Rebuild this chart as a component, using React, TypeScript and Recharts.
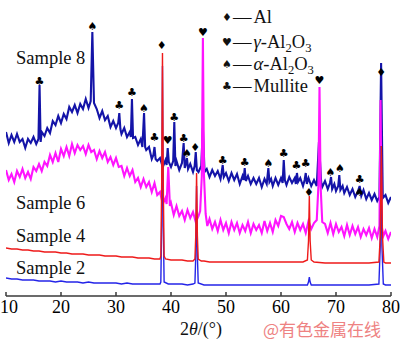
import React from "react";
import { ComposedChart, Line, Scatter, XAxis, YAxis } from "recharts";

// 2θ (deg), intensity (a.u., offset per sample)
const xTicks = [10, 20, 30, 40, 50, 60, 70, 80];

const sample2: [number, number][] = [
  [10, 18], [11, 17], [12, 17], [13, 16], [14, 16], [15, 16], [16, 15], [17, 15], [18, 15], [19, 14],
  [20, 15], [21, 14], [22, 14], [23, 14], [24, 13], [25, 14], [26, 13], [27, 13], [28, 13], [29, 13],
  [30, 13], [31, 12], [32, 13], [33, 12], [34, 12], [35, 12], [36, 12], [37, 12], [38, 12], [38.15, 14],
  [38.3, 70], [38.45, 230], [38.6, 70], [38.75, 14], [39.5, 12], [40, 12], [41, 12], [42, 12], [43, 11],
  [44, 12], [44.35, 13], [44.5, 40], [44.65, 110], [44.8, 40], [44.95, 13], [46, 11], [47, 11], [48, 11],
  [50, 11], [52, 11], [54, 11], [56, 11], [58, 11], [60, 11], [62, 11], [64, 11], [64.8, 11], [65, 14],
  [65.15, 19], [65.3, 14], [65.5, 11], [67, 11], [70, 11], [72, 11], [74, 11], [76, 11], [77.8, 12],
  [78.05, 50], [78.2, 150], [78.35, 50], [78.6, 12], [79, 11], [80, 11],
];

const sample4: [number, number][] = [
  [10, 48], [11, 47], [12, 47], [13, 46], [14, 46], [15, 45], [16, 45], [17, 44], [18, 44], [19, 44],
  [20, 43], [21, 43], [22, 42], [23, 42], [24, 42], [25, 41], [26, 41], [27, 41], [28, 40], [29, 40],
  [30, 40], [31, 39], [32, 39], [33, 39], [34, 38], [35, 38], [36, 38], [37, 37], [38, 37], [38.15, 40],
  [38.3, 110], [38.45, 243], [38.6, 110], [38.75, 40], [39, 37], [40, 36], [41, 36], [42, 36], [43, 35],
  [44, 35], [44.35, 37], [44.5, 60], [44.65, 123], [44.8, 60], [44.95, 37], [45.5, 35], [46, 35], [47, 34],
  [48, 34], [50, 34], [52, 34], [54, 34], [56, 34], [58, 34], [60, 34], [62, 34], [64, 34], [64.8, 36],
  [65, 55], [65.15, 100], [65.3, 55], [65.5, 36], [66, 34], [68, 33], [70, 33], [72, 33], [74, 33],
  [76, 33], [77.8, 34], [78.05, 60], [78.25, 150], [78.45, 60], [78.7, 34], [79, 33], [80, 33],
];

const sample6: [number, number][] = [
  [10, 126], [10.5, 116], [11, 122], [11.5, 114], [12, 125], [12.5, 119], [13, 127], [13.5, 118], [14, 124],
  [14.5, 117], [15, 129], [15.5, 125], [16, 132], [16.5, 125], [17, 134], [17.5, 130], [18, 141], [18.5, 134],
  [19, 143], [19.5, 134], [20, 147], [20.5, 140], [21, 149], [21.5, 140], [22, 152], [22.5, 143], [23, 151],
  [23.5, 146], [24, 150], [24.5, 142], [25, 151], [25.5, 144], [26, 146], [26.5, 137], [27, 145], [27.5, 138],
  [28, 144], [28.5, 134], [29, 139], [29.5, 131], [30, 138], [30.5, 129], [31, 130], [31.5, 120], [32, 128],
  [32.5, 120], [33, 126], [33.5, 114], [34, 118], [34.5, 109], [35, 117], [35.5, 109], [36, 114], [36.5, 104],
  [37, 113], [37.5, 101], [38, 104], [38.5, 92], [39, 98], [39.2, 92], [39.5, 129], [39.8, 90], [40, 93],
  [40.5, 81], [41, 90], [41.5, 80], [42, 85], [42.5, 76], [43, 86], [43.5, 78], [44, 84], [44.5, 74],
  [45, 80], [45.3, 85], [45.6, 120], [45.8, 258], [46, 120], [46.3, 82], [46.6, 70], [47, 77], [47.5, 67],
  [48, 74], [48.5, 65], [49, 76], [49.5, 66], [50, 73], [50.5, 63], [51, 74], [51.5, 66], [52, 73],
  [52.5, 63], [53, 71], [53.5, 65], [54, 74], [54.5, 63], [55, 72], [55.5, 66], [56, 71], [56.5, 63],
  [57, 75], [57.5, 65], [58, 73], [58.5, 64], [59, 76], [59.5, 70], [60, 80], [60.5, 79], [61, 72],
  [61.5, 67], [62, 74], [62.5, 64], [63, 73], [63.5, 66], [64, 72], [64.5, 63], [65, 75], [65.5, 67],
  [66, 73], [66.5, 76], [66.8, 110], [67, 209], [67.2, 110], [67.5, 74], [68, 72], [68.5, 63], [69, 73],
  [69.5, 62], [70, 72], [70.5, 64], [71, 69], [71.5, 60], [72, 71], [72.5, 61], [73, 70], [73.5, 62],
  [74, 69], [74.5, 59], [75, 67], [75.5, 61], [76, 68], [76.5, 58], [77, 67], [77.5, 59], [77.9, 70],
  [78.1, 196], [78.3, 70], [78.6, 60], [79, 65], [79.5, 57], [80, 64],
];

const sample8: [number, number][] = [
  [10, 164], [10.5, 153], [11, 161], [11.5, 154], [12, 162], [12.5, 154], [13, 157], [13.5, 148], [14, 157],
  [14.5, 153], [15, 159], [15.5, 152], [15.9, 157], [16.1, 211], [16.3, 154], [16.5, 164], [17, 160],
  [17.5, 168], [18, 163], [18.5, 175], [19, 171], [19.5, 180], [20, 173], [20.5, 182], [21, 177], [21.5, 189],
  [22, 184], [22.5, 191], [23, 183], [23.5, 192], [24, 187], [24.5, 197], [25, 188], [25.4, 195], [25.7, 264],
  [26, 193], [26.5, 187], [27, 178], [27.5, 185], [28, 176], [28.5, 180], [29, 169], [29.5, 175], [30, 168],
  [30.4, 173], [30.6, 183], [30.8, 167], [31, 162], [31.5, 168], [32, 159], [32.5, 164], [32.7, 159],
  [32.9, 197], [33.1, 158], [33.5, 159], [34, 151], [34.5, 157], [34.8, 149], [35.1, 183], [35.3, 149],
  [35.5, 146], [36, 149], [36.5, 137], [36.8, 141], [37, 149], [37.2, 137], [37.5, 135], [38, 138],
  [38.5, 129], [39, 136], [39.2, 131], [39.4, 148], [39.6, 134], [40, 129], [40.4, 135], [40.6, 174],
  [40.8, 130], [41, 135], [41.5, 126], [42, 133], [42.3, 153], [42.5, 128], [42.7, 132], [42.9, 138],
  [43.1, 127], [43.5, 132], [44, 124], [44.3, 130], [44.5, 144], [44.7, 126], [45, 124], [45.5, 130],
  [45.8, 168], [46.1, 124], [46.5, 127], [47, 119], [47.5, 126], [48, 120], [48.5, 125], [49, 117],
  [49.2, 123], [49.4, 131], [49.6, 119], [50, 123], [50.5, 115], [51, 123], [51.5, 116], [52, 122],
  [52.5, 112], [53, 120], [53.2, 116], [53.4, 128], [53.6, 115], [54, 120], [54.5, 112], [55, 118],
  [55.5, 112], [56, 118], [56.5, 109], [57, 117], [57.4, 112], [57.7, 128], [57.9, 114], [58.2, 117],
  [58.5, 110], [59, 118], [59.5, 111], [60, 118], [60.3, 113], [60.5, 136], [60.7, 116], [61, 111],
  [61.5, 119], [62, 113], [62.5, 118], [62.7, 112], [62.9, 123], [63.1, 114], [63.5, 118], [64, 110],
  [64.3, 116], [64.5, 123], [64.7, 112], [65, 118], [65.5, 110], [66, 116], [66.5, 110], [66.9, 154],
  [67.3, 114], [67.5, 109], [68, 115], [68.5, 107], [68.9, 113], [69.1, 119], [69.3, 107], [69.7, 112],
  [70, 105], [70.4, 110], [70.6, 121], [70.8, 106], [71.2, 110], [71.5, 103], [72, 109], [72.5, 101],
  [73, 107], [73.5, 99], [74, 105], [74.3, 110], [74.6, 100], [75, 106], [75.5, 97], [76, 103],
  [76.5, 96], [77, 102], [77.5, 95], [77.9, 99], [78.2, 233], [78.5, 98], [79, 101], [79.5, 93], [80, 99],
];

// phase markers: 2θ, height, symbol
const marks: [number, number, string][] = [
  [16.1, 215, "\u2663"], [25.7, 270, "\u2660"], [30.6, 191, "\u2663"], [32.9, 204, "\u2663"],
  [35.1, 188, "\u2660"], [37.0, 159, "\u2663"], [39.4, 156, "\u2665"], [40.6, 179, "\u2663"],
  [42.3, 158, "\u2663"], [42.9, 143, "\u2660"], [44.4, 149, "\u2666"], [49.4, 136, "\u2663"],
  [53.4, 134, "\u2663"], [57.7, 133, "\u2660"], [60.5, 143, "\u2663"], [62.8, 131, "\u2663"],
  [64.5, 133, "\u2663"], [69.0, 124, "\u2660"], [70.7, 128, "\u2660"], [74.3, 117, "\u2663"],
  [74.3, 104, "\u2660"], [78.2, 224, "\u2666"], [38.3, 251, "\u2666"], [65.1, 104, "\u2666"],
  [45.8, 264, "\u2665"], [67.0, 216, "\u2665"],
];

const legendSyms = ["\u2666", "\u2665", "\u2660", "\u2663"];
const legendNames: React.ReactNode[] = [
  "Al",
  <><i>γ</i>-Al<sub>2</sub>O<sub>3</sub></>,
  <><i>α</i>-Al<sub>2</sub>O<sub>3</sub></>,
  "Mullite",
];

const toPts = (a: [number, number][]) => a.map(([x, y]) => ({ x, y }));

const serif = "'Liberation Serif', 'DejaVu Serif', serif";
const axisColor = "#3a3a3a";

const PhaseMark = (props: any) => {
  const { cx, cy, payload } = props;
  return (
    <text x={cx} y={cy} dy="0.36em" textAnchor="middle" fontSize={11}
      fontFamily="DejaVu Sans" fill="#000">{payload.s}</text>
  );
};

const XTick = (props: any) => {
  const { x, y, payload, index } = props;
  return (
    <text x={x} y={y} dy="0.71em" dx={index === 0 ? 3 : 0} textAnchor="middle" fontSize={18}
      fontFamily={serif} fill="#000">{payload.value}</text>
  );
};

const sampleLabel: React.CSSProperties = {
  position: "absolute", left: 16, fontFamily: serif, fontSize: 18.5, lineHeight: 1, color: "#111",
};

const subStyle = `.xrdleg sub{font-size:0.68em;vertical-align:-0.28em;line-height:0}`;

export default function App() {
  return (
    <div style={{ position: "absolute", left: 0, top: 0, width: 400, height: 341, background: "#fff" }}>
      <style>{subStyle}</style>
      <ComposedChart width={400} height={341} margin={{ top: 1, right: 9, bottom: 15, left: 6 }}>
        <XAxis dataKey="x" type="number" domain={[10, 80]} ticks={xTicks} height={30} interval={0}
          tickSize={-4} tickMargin={8} stroke={axisColor} strokeWidth={1.5}
          tick={<XTick />} allowDataOverflow />
        <XAxis xAxisId="top" orientation="top" type="number" domain={[10, 80]} height={0}
          tick={false} tickLine={false} stroke={axisColor} strokeWidth={1.5} />
        <YAxis type="number" domain={[0, 295]} width={0} tick={false} tickLine={false}
          stroke={axisColor} strokeWidth={1.5} allowDataOverflow />
        <YAxis yAxisId="right" orientation="right" domain={[0, 1]} width={0} tick={false}
          tickLine={false} stroke={axisColor} strokeWidth={1.5} />
        <Line data={toPts(sample8)} dataKey="y" type="linear" stroke="#1414a8" strokeWidth={2.1}
          dot={false} isAnimationActive={false} />
        <Line data={toPts(sample6)} dataKey="y" type="linear" stroke="#ff14ff" strokeWidth={2.1}
          dot={false} isAnimationActive={false} />
        <Line data={toPts(sample2)} dataKey="y" type="linear" stroke="#2424e8" strokeWidth={1.4}
          dot={false} isAnimationActive={false} />
        <Line data={toPts(sample4)} dataKey="y" type="linear" stroke="#ee1a1a" strokeWidth={1.4}
          dot={false} isAnimationActive={false} />
        <Scatter data={marks.map(([x, y, s]) => ({ x, y, s }))} dataKey="y"
          shape={(p: any) => <PhaseMark {...p} />} isAnimationActive={false} />
      </ComposedChart>

      <div style={{ ...sampleLabel, top: 49 }}>Sample 8</div>
      <div style={{ ...sampleLabel, top: 194 }}>Sample 6</div>
      <div style={{ ...sampleLabel, top: 227 }}>Sample 4</div>
      <div style={{ ...sampleLabel, top: 259 }}>Sample 2</div>

      <div className="xrdleg" style={{ position: "absolute", left: 222, top: 6, fontFamily: serif, fontSize: 18.5, color: "#111" }}>
        {legendSyms.map((s, i) => (
          <div key={i} style={{ display: "flex", alignItems: "center", height: 22, marginBottom: i === 0 ? 3 : 0 }}>
            <span style={{ width: 10, textAlign: "center", fontFamily: "DejaVu Sans", fontSize: 11 }}>{s}</span>
            <span style={{ marginLeft: 1 }}>—</span>
            <span style={{ marginLeft: 2 }}>{legendNames[i]}</span>
          </div>
        ))}
      </div>

      <div style={{ position: "absolute", left: 180, top: 320, fontFamily: serif, fontSize: 18, lineHeight: 1, color: "#111" }}>
        2<i>θ</i>/(°)
      </div>
      <div style={{ position: "absolute", left: 263, top: 320, fontFamily: "Noto Sans CJK SC", fontSize: 17, lineHeight: 1, color: "rgb(238,130,130)" }}>
        @有色金属在线
      </div>
    </div>
  );
}
